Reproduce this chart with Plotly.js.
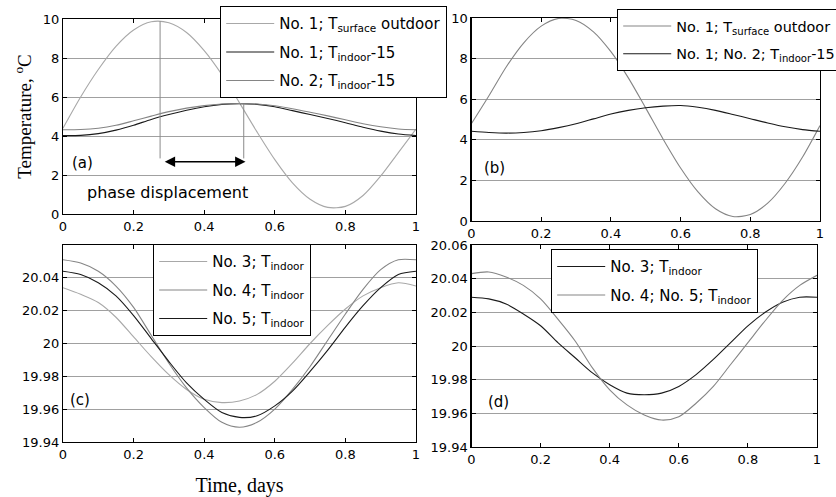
<!DOCTYPE html>
<html><head><meta charset="utf-8">
<script src="https://cdn.plot.ly/plotly-3.0.1.min.js"></script>
<style>html,body{margin:0;padding:0;background:#fff}#chart{width:836px;height:497px}</style>
</head><body><div id="chart"></div>
<script>
// ---- data ----
const timeDays = [0,0.05,0.1,0.15,0.2,0.25,0.3,0.35,0.4,0.45,0.5,0.55,0.6,0.65,0.7,0.75,0.8,0.85,0.9,0.95,1];
// panel (a)
const aSurfaceNo1 = [4.4,6.0,7.41,8.6,9.44,9.86,9.81,9.31,8.38,7.15,5.7,4.2,2.79,1.6,0.76,0.34,0.39,0.95,1.95,3.15,4.35];
const aIndoorNo1  = [4.02,4.03,4.12,4.3,4.55,4.85,5.1,5.32,5.5,5.62,5.66,5.62,5.5,5.3,5.1,4.9,4.68,4.45,4.25,4.1,4.02];
const aIndoorNo2  = [4.32,4.33,4.4,4.55,4.78,5.02,5.25,5.43,5.56,5.64,5.67,5.64,5.55,5.4,5.22,5.03,4.83,4.63,4.47,4.36,4.32];
// panel (b)
const bSurfaceNo1 = [4.8,6.17,7.6,8.78,9.6,9.98,9.88,9.32,8.34,7.05,5.56,4.03,2.61,1.43,0.6,0.22,0.32,0.88,1.86,3.15,4.7];
const bIndoorNo12 = [4.42,4.36,4.33,4.36,4.45,4.6,4.79,5.03,5.27,5.45,5.58,5.66,5.69,5.6,5.45,5.25,5.04,4.83,4.64,4.5,4.42];
// panel (c)
const cIndoorNo3 = [20.034,20.030,20.025,20.016,20.004,19.992,19.981,19.972,19.966,19.964,19.965,19.969,19.977,19.988,20.000,20.011,20.021,20.029,20.034,20.037,20.035];
const cIndoorNo4 = [20.051,20.049,20.044,20.035,20.022,20.005,19.988,19.973,19.961,19.952,19.949,19.952,19.960,19.972,19.986,20.002,20.018,20.033,20.045,20.051,20.051];
const cIndoorNo5 = [20.044,20.042,20.037,20.029,20.017,20.003,19.989,19.976,19.966,19.958,19.955,19.956,19.962,19.971,19.983,19.996,20.010,20.023,20.034,20.042,20.044];
// panel (d)
const dIndoorNo3  = [20.029,20.028,20.025,20.019,20.012,20.002,19.993,19.984,19.977,19.972,19.971,19.972,19.976,19.983,19.992,20.002,20.012,20.020,20.026,20.029,20.029];
const dIndoorNo45 = [20.043,20.044,20.041,20.036,20.028,20.016,20.003,19.987,19.974,19.965,19.959,19.956,19.958,19.966,19.976,19.989,20.002,20.015,20.027,20.036,20.042];
// phase displacement markers in panel (a)
const phaseX = [0.275, 0.512];
const phaseTop = [9.88, 5.64];
const phaseBottom = 2.85;
const arrowX = [0.284, 0.517];
const arrowY = 2.68;
// ticks
const xTickVals = [0,0.2,0.4,0.6,0.8,1];
const xTickText = ['0','0.2','0.4','0.6','0.8','1'];
const abTickVals = [0,2,4,6,8,10];
const abTickText = ['0','2','4','6','8','10'];
const cTickVals = [19.94,19.96,19.98,20,20.02,20.04];
const cTickText = ['19.94','19.96','19.98','20','20.02','20.04'];
const dTickVals = [19.94,19.96,19.98,20,20.02,20.04,20.06];
const dTickText = ['19.94','19.96','19.98','20','20.02','20.04','20.06'];

// ---- styles ----
const SANS = 'DejaVu Sans, Liberation Sans, Arial, sans-serif';
const SERIF = 'Liberation Serif, Times New Roman, serif';
const LIGHT = '#a8a8a8', MID = '#858585', DARK = '#1a1a1a';
const W = 836, H = 497;
const px = (a, b) => [a / W, b / W];
const py = (top, bottom) => [1 - bottom / H, 1 - top / H];

function tr(x, y, name, color, xa, ya, leg, group, show) {
  return {x: x, y: y, name: name, type: 'scatter', mode: 'lines',
    line: {color: color, width: 1.1, shape: 'spline', smoothing: 0.8},
    xaxis: xa, yaxis: ya, legend: leg, legendgroup: group,
    showlegend: show !== false, hoverinfo: 'skip'};
}

const traces = [
  tr(timeDays, aSurfaceNo1, 'No. 1; T<sub>surface</sub> outdoor', LIGHT, 'x', 'y', 'legend', 'a1'),
  tr(timeDays, aIndoorNo1, 'No. 1; T<sub>indoor</sub>-15', DARK, 'x', 'y', 'legend', 'a2'),
  tr(timeDays, aIndoorNo2, 'No. 2; T<sub>indoor</sub>-15', MID, 'x', 'y', 'legend', 'a3'),
  {x: [phaseX[0], phaseX[0]], y: [phaseTop[0], phaseBottom], type: 'scatter', mode: 'lines',
   line: {color: '#8a8a8a', width: 1}, xaxis: 'x', yaxis: 'y', showlegend: false, hoverinfo: 'skip'},
  {x: [phaseX[1], phaseX[1]], y: [phaseTop[1], phaseBottom], type: 'scatter', mode: 'lines',
   line: {color: '#8a8a8a', width: 1}, xaxis: 'x', yaxis: 'y', showlegend: false, hoverinfo: 'skip'},
  tr(timeDays, bSurfaceNo1, 'No. 1; T<sub>surface</sub> outdoor', MID, 'x2', 'y2', 'legend2', 'b1'),
  tr(timeDays, bIndoorNo12, 'No. 1; No. 2; T<sub>indoor</sub>-15', DARK, 'x2', 'y2', 'legend2', 'b2'),
  tr(timeDays, cIndoorNo3, 'No. 3; T<sub>indoor</sub>', LIGHT, 'x3', 'y3', 'legend3', 'c1'),
  tr(timeDays, cIndoorNo4, 'No. 4; T<sub>indoor</sub>', MID, 'x3', 'y3', 'legend3', 'c2'),
  tr(timeDays, cIndoorNo5, 'No. 5; T<sub>indoor</sub>', DARK, 'x3', 'y3', 'legend3', 'c3'),
  tr(timeDays, dIndoorNo3, 'No. 3; T<sub>indoor</sub>', DARK, 'x4', 'y4', 'legend4', 'd1'),
  tr(timeDays, dIndoorNo45, 'No. 4; No. 5; T<sub>indoor</sub>', MID, 'x4', 'y4', 'legend4', 'd2')
];

function axis(domain, range, anchor, extra) {
  return Object.assign({domain: domain, range: range, anchor: anchor,
    showline: true, linecolor: '#000', linewidth: 1.2, mirror: 'ticks',
    ticks: 'inside', ticklen: 4, tickwidth: 1, tickcolor: '#000',
    zeroline: false, showgrid: false, automargin: false, fixedrange: true,
    tickmode: 'array',
    tickfont: {family: SANS, size: 13, color: '#000'}}, extra);
}
const ygrid = {showgrid: true, gridcolor: '#a0a0a0', gridwidth: 1};

function legendBox(x, y, yanchor, size) {
  return {x: x, y: y, xanchor: 'left', yanchor: yanchor, bgcolor: '#fff',
    bordercolor: '#000', borderwidth: 1.2, itemwidth: 48, tracegroupgap: 6,
    font: {family: SANS, size: size || 15, color: '#000'}, itemclick: false, itemdoubleclick: false};
}

const annFont = {family: SANS, size: 15, color: '#000'};
const layout = {
  width: W, height: H,
  margin: {l: 0, r: 0, t: 0, b: 0, autoexpand: false},
  paper_bgcolor: '#fff', plot_bgcolor: '#fff',
  xaxis: axis(px(63, 416), [0, 1], 'y', {tickvals: xTickVals, ticktext: xTickText}),
  yaxis: axis(py(19, 214), [0, 10], 'x', Object.assign({tickvals: abTickVals, ticktext: abTickText,
    title: {text: 'Temperature, <sup>o</sup>C', standoff: 6, font: {family: SERIF, size: 19, color: '#000'}}}, ygrid)),
  xaxis2: axis(px(471.5, 820), [0, 1], 'y2', {tickvals: xTickVals, ticktext: xTickText}),
  yaxis2: axis(py(18, 221), [0, 10], 'x2', Object.assign({tickvals: abTickVals, ticktext: abTickText}, ygrid)),
  xaxis3: axis(px(63, 416), [0, 1], 'y3', {tickvals: xTickVals, ticktext: xTickText,
    title: {text: 'Time, days', font: {family: SERIF, size: 20, color: '#000'}}}),
  yaxis3: axis(py(245, 442), [19.94, 20.06], 'x3', Object.assign({tickvals: cTickVals, ticktext: cTickText}, ygrid)),
  xaxis4: axis(px(471.5, 817), [0, 1], 'y4', {tickvals: xTickVals, ticktext: xTickText}),
  yaxis4: axis(py(245, 447), [19.94, 20.06], 'x4', Object.assign({tickvals: dTickVals, ticktext: dTickText}, ygrid)),
  legend: legendBox(220 / W, 1 - 98 / H, 'bottom'),
  legend2: legendBox(617 / W, 1 - 71 / H, 'bottom', 14.4),
  legend3: legendBox(153 / W, 1 - 244 / H, 'top'),
  legend4: legendBox(551 / W, 1 - 249 / H, 'top'),
  annotations: [
    {text: '(a)', xref: 'x', yref: 'y', x: 0.02, y: 2.6, xanchor: 'left', yanchor: 'middle', showarrow: false, font: annFont},
    {text: '(b)', xref: 'x2', yref: 'y2', x: 0.029, y: 2.6, xanchor: 'left', yanchor: 'middle', showarrow: false, font: annFont},
    {text: '(c)', xref: 'x3', yref: 'y3', x: 0.015, y: 19.9656, xanchor: 'left', yanchor: 'middle', showarrow: false, font: annFont},
    {text: '(d)', xref: 'x4', yref: 'y4', x: 0.042, y: 19.9667, xanchor: 'left', yanchor: 'middle', showarrow: false, font: annFont},
    {text: 'phase displacement', xref: 'x', yref: 'y', x: 0.295, y: 1.08, xanchor: 'center', yanchor: 'middle', showarrow: false,
     font: {family: SANS, size: 16, color: '#000'}},
    {text: '', xref: 'x', yref: 'y', axref: 'x', ayref: 'y', x: arrowX[1], y: arrowY, ax: arrowX[0], ay: arrowY,
     showarrow: true, arrowhead: 2, startarrowhead: 2, arrowside: 'end+start', arrowsize: 1.3, startarrowsize: 1.3,
     arrowwidth: 1.6, arrowcolor: '#000', standoff: 0, startstandoff: 0}
  ]
};

Plotly.newPlot('chart', traces, layout, {displayModeBar: false, staticPlot: true});
</script></body></html>
